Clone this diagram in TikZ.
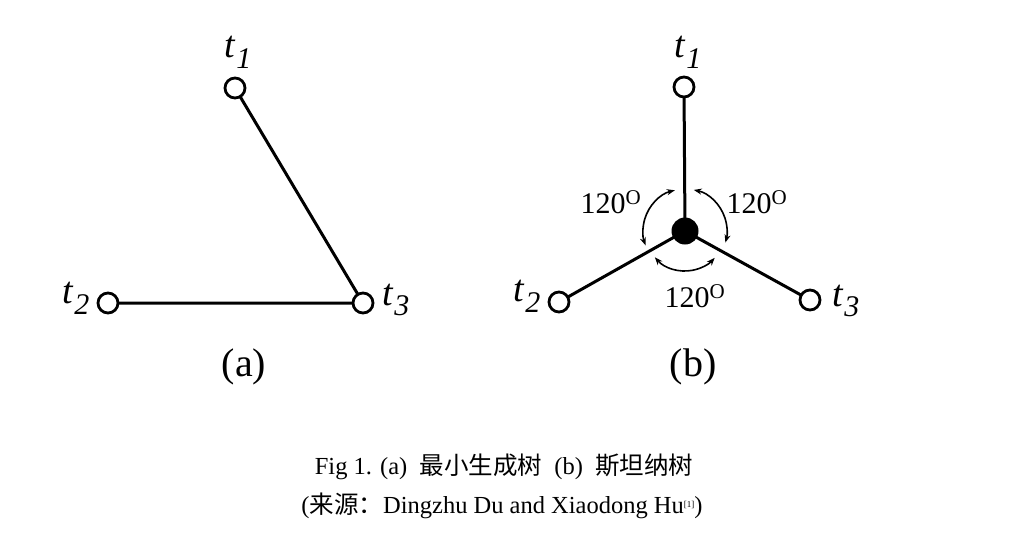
\documentclass[tikz,border=0pt]{standalone}
\usepackage{fontspec}
\setmainfont{Liberation Serif}
\newfontfamily\cjk{Noto Sans CJK SC}
\usetikzlibrary{arrows.meta,calc}
\newcommand{\tlab}[1]{\textit{t}\kern0.5pt\raisebox{-0.28em}{\fontsize{30}{30}\selectfont\textit{#1}}}
\tikzset{
  term/.style={circle,draw,line width=2.8pt,fill=white,minimum size=20pt,inner sep=0pt},
  steiner/.style={circle,fill=black,minimum size=27pt,inner sep=0pt},
  edge/.style={line width=3pt},
  anglearc/.style={line width=1.6pt,{Stealth[length=8pt,width=6pt]}-{Stealth[length=8pt,width=6pt]}},
  tl/.style={font=\fontsize{38}{38}\selectfont,inner sep=0pt},
  ang/.style={font=\fontsize{30}{30}\selectfont,inner sep=0pt},
  sublab/.style={font=\fontsize{40}{40}\selectfont,inner sep=0pt},
  captext/.style={font=\fontsize{24.5}{24.5}\selectfont,inner sep=0pt}
}
\begin{document}
\begin{tikzpicture}[x=1pt,y=-1pt]
\useasboundingbox (0,0) rectangle (1016,538);
% panel (a)
\coordinate (a1) at (235,88);
\coordinate (a2) at (108,303);
\coordinate (a3) at (363,303);
\draw[edge] (a1) -- (a3) -- (a2);
\node[term] (A1) at (a1) {};
\node[term] (A2) at (a2) {};
\node[term] (A3) at (a3) {};
\node[tl] (LA1) at (238,52) {\tlab{1}};
\node[tl] (LA2) at (76,298) {\tlab{2}};
\node[tl] (LA3) at (396,300) {\tlab{3}};
\node[sublab] (SA) at (244,367) {(a)};
% panel (b)
\coordinate (c) at (685,231);
\coordinate (b1) at (684,87);
\coordinate (b2) at (559,302);
\coordinate (b3) at (810,300);
\draw[edge] (c) -- (b1) (c) -- (b2) (c) -- (b3);
\node[term] (B1) at (b1) {};
\node[term] (B2) at (b2) {};
\node[term] (B3) at (b3) {};
\node[steiner] (S) at (c) {};
\draw[anglearc] ($(c)+(-104:42)$) arc[start angle=-104, end angle=-200, radius=42];
\draw[anglearc] ($(c)+(-78:42)$) arc[start angle=-78, end angle=16, radius=42];
\draw[anglearc] ($(c)+(-221:40)$) arc[start angle=-221, end angle=-318, radius=40];
\node[tl] (LB1) at (688,52) {\tlab{1}};
\node[tl] (LB2) at (527,296) {\tlab{2}};
\node[tl] (LB3) at (846,301) {\tlab{3}};
\node[ang] (G1) at (611,202) {120\textsuperscript{O}};
\node[ang] (G2) at (757,202) {120\textsuperscript{O}};
\node[ang] (G3) at (695,296) {120\textsuperscript{O}};
\node[sublab] (SB) at (693,367) {(b)};
% caption
\node[captext] (C1) at (504,467) {Fig 1. (a)\ \ {\cjk 最小生成树}\ \ (b)\ \ {\cjk 斯坦纳树}};
\node[captext] (C2) at (502,506) {({\cjk 来源：}Dingzhu Du and Xiaodong Hu{\fontsize{9}{9}\selectfont\raisebox{0.7em}{[1]}})};
\end{tikzpicture}
\end{document}
